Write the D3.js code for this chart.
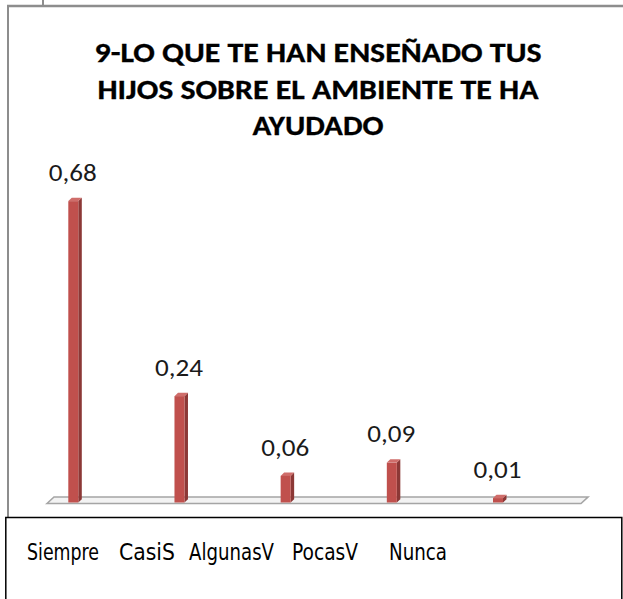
<!DOCTYPE html>
<html>
<head>
<meta charset="utf-8">
<script src="https://cdn.jsdelivr.net/npm/d3@7"></script>
<style>
  html, body { margin: 0; padding: 0; background: #fff; }
  svg { display: block; }
</style>
</head>
<body>
<svg id="chart" width="623" height="599"></svg>
<script>
// Survey answers: share of respondents per frequency option
const categories = ["Siempre", "CasiS", "AlgunasV", "PocasV", "Nunca"];
const values = [0.68, 0.24, 0.06, 0.09, 0.01];
const valueLabels = ["0,68", "0,24", "0,06", "0,09", "0,01"];
const titleLines = [
  "9-LO QUE TE HAN ENSEÑADO TUS",
  "HIJOS SOBRE EL AMBIENTE TE HA",
  "AYUDADO"
];

const svg = d3.select("#chart");
const W = 623, H = 599;

// ---- outer frames ----
const frameGray = "#8d8d8d";
svg.append("line").attr("x1", 7).attr("x2", W).attr("y1", 6).attr("y2", 6)
  .attr("stroke", frameGray).attr("stroke-width", 2.6);
svg.append("line").attr("x1", 43).attr("x2", 43).attr("y1", 0).attr("y2", 6)
  .attr("stroke", frameGray).attr("stroke-width", 2);
svg.append("line").attr("x1", 8).attr("x2", 8).attr("y1", 5).attr("y2", 518)
  .attr("stroke", frameGray).attr("stroke-width", 2);

// ---- title ----
const titleFont = "Carlito, Calibri, Lato, 'Open Sans', sans-serif";
const titleWidths = [447, 441, 131];
const title = svg.append("g");
titleLines.forEach((t, i) => {
  title.append("text")
    .attr("x", 318).attr("y", 62 + i * 36.5)
    .attr("text-anchor", "middle")
    .attr("font-family", titleFont)
    .attr("font-weight", "bold")
    .attr("font-size", 29)
    .attr("fill", "#000")
    .attr("stroke", "#000")
    .attr("stroke-width", 0.3)
    .attr("textLength", titleWidths[i])
    .attr("lengthAdjust", "spacingAndGlyphs")
    .text(t);
});

// ---- scales ----
const x = d3.scalePoint().domain(categories).range([73.3, 498]);
const y = d3.scaleLinear().domain([0, 0.8]).range([502.5, 502.5 - 0.8 * 443.2]);

// 3D depth offsets
const dx = 3.5, dy = 3.3, half = 5;

// ---- floor slab ----
const floorY = y(0);
svg.append("path")
  .attr("d", `M47,${floorY + 1} L54,${floorY - 5.5} L588,${floorY - 5.5} L581,${floorY + 1} Z`)
  .attr("fill", "#f3f3f3")
  .attr("stroke", "#a5a5a5")
  .attr("stroke-width", 1.6);

// ---- bars ----
const front = "#c0504d", side = "#8c3836", topC = "#cf6d6a";
const bars = svg.append("g").selectAll("g").data(values).join("g");

bars.append("path") // right side face
  .attr("d", (d, i) => {
    const cx = x(categories[i]), t = y(d), b = y(0);
    return `M${cx + half},${t} L${cx + half + dx},${t - dy} L${cx + half + dx},${b - dy} L${cx + half},${b} Z`;
  })
  .attr("fill", side);

bars.append("path") // top face
  .attr("d", (d, i) => {
    const cx = x(categories[i]), t = y(d);
    return `M${cx - half},${t} L${cx - half + dx},${t - dy} L${cx + half + dx},${t - dy} L${cx + half},${t} Z`;
  })
  .attr("fill", topC);

bars.append("rect") // front face
  .attr("x", (d, i) => x(categories[i]) - half)
  .attr("y", d => y(d))
  .attr("width", half * 2)
  .attr("height", d => y(0) - y(d))
  .attr("fill", front);

// ---- value labels ----
svg.append("g").selectAll("text").data(values).join("text")
  .attr("x", (d, i) => x(categories[i]) - 0.5)
  .attr("y", d => y(d) - dy - 17)
  .attr("text-anchor", "middle")
  .attr("font-family", "Carlito, Calibri, Lato, 'Open Sans', sans-serif")
  .attr("font-size", 24.5)
  .attr("fill", "#1a1a1a")
  .attr("textLength", 48)
  .attr("lengthAdjust", "spacingAndGlyphs")
  .text((d, i) => valueLabels[i]);

// ---- category box ----
svg.append("rect")
  .attr("x", 5.8).attr("y", 517.5)
  .attr("width", 616).attr("height", 100)
  .attr("fill", "#fff")
  .attr("stroke", "#000")
  .attr("stroke-width", 1.5);

const catX = [27, 119, 189, 292, 389];
const catW = [72, 56, 85, 66, 58];
svg.append("g").selectAll("text").data(categories).join("text")
  .attr("x", (d, i) => catX[i])
  .attr("y", 560)
  .attr("font-family", "'Liberation Sans Narrow', 'Arial Narrow', 'DejaVu Sans Condensed', sans-serif")
  .attr("font-size", 22.5)
  .attr("fill", "#000")
  .attr("textLength", (d, i) => catW[i])
  .attr("lengthAdjust", "spacingAndGlyphs")
  .text(d => d);
</script>
</body>
</html>
